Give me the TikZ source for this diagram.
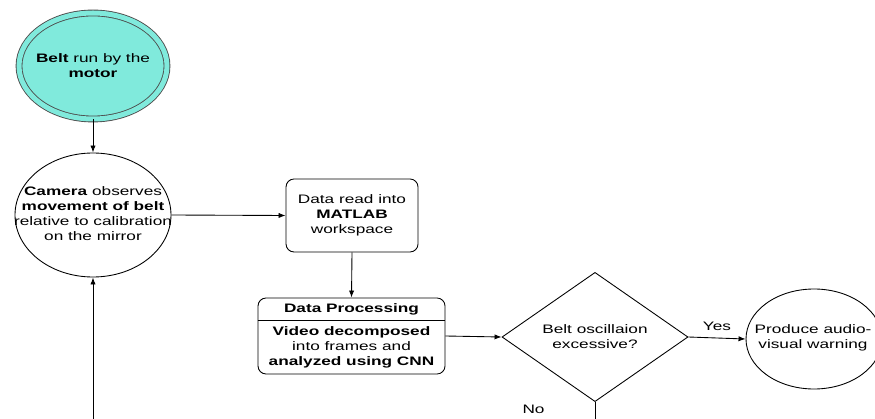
\documentclass[tikz,border=0pt]{standalone}
\usepackage{fontspec}
\setmainfont[FakeStretch=1.4]{Liberation Sans}
\usetikzlibrary{shapes.geometric}
\usetikzlibrary{arrows.meta}

\definecolor{beltfill}{RGB}{128,234,220}

\tikzset{
    flowtext/.style={inner sep=0pt,align=center,font=\fontsize{7}{8.5}\selectfont},
    flow/.style={flowtext,draw,line width=0.5pt},
    oval/.style={flow,ellipse},
    roundbox/.style={flow,rectangle,rounded corners=0.16cm},
    decision/.style={flow,diamond},
    link/.style={line width=0.5pt,-{Latex[length=4pt,width=3pt]}},
    plain/.style={line width=0.5pt}
}

\begin{document}
\begin{tikzpicture}

            %\draw [help lines] (0,0) grid (17.5,-8.38);
            \useasboundingbox (0,0) rectangle (17.5,-8.38);

            \path   (1.86,-1.32) node (belt) [oval,draw=black!70,fill=beltfill,double=beltfill,double distance=0.1cm,
                                              minimum width=2.96cm,minimum height=2.12cm] {}
                    (1.86,-4.3)  node (cam)  [oval,minimum width=3.12cm,minimum height=2.48cm] {}
                    (7.04,-4.31) node (data) [roundbox,minimum width=2.64cm,minimum height=1.46cm]
                                              {Data read into\\ \textbf{MATLAB}\\ workspace}
                    (7.03,-6.72) node (proc) [roundbox,minimum width=3.74cm,minimum height=1.52cm] {}
                    (11.9,-6.74) node (check)[decision,minimum width=3.72cm,minimum height=2.38cm]
                                              {Belt oscillaion\\ excessive?}
                    (16.28,-6.78) node (warn)[oval,minimum width=2.72cm,minimum height=2.0cm] {};

            % texts of the ovals
            \path   (1.86,-1.32) node (belttext) [flowtext] {\textbf{Belt} run by the\\ \textbf{motor}}
                    (1.86,-4.28) node (camtext)  [flowtext] {\textbf{Camera} observes\\ \textbf{movement of belt}\\
                                                             relative to calibration\\ on the mirror}
                    (16.26,-6.75) node (warntext) [flowtext] {Produce audio-\\ visual warning};

            % header and body of the processing box
            \path   (proc.north) node (prochead) [flowtext,anchor=north,minimum width=3.74cm,minimum height=0.44cm]
                                                  {\textbf{Data Processing}}
                    (7.03,-6.95) node (procbody) [flowtext] {\textbf{Video decomposed}\\ into frames and\\
                                                              \textbf{analyzed using CNN}};
            \draw[plain] (prochead.south west) -- (prochead.south east);

            \coordinate (loopin) at (1.86,-8.38);
            \coordinate (noout)  at (11.9,-8.38);

            \draw[link]  (node cs: name=belt, anchor=south) -- (node cs: name=cam, anchor=north);
            \draw[link]  (node cs: name=cam, anchor=east)   -- (node cs: name=data, anchor=west);
            \draw[link]  (node cs: name=data, anchor=south) -- (node cs: name=proc, anchor=north);
            \draw[link]  (node cs: name=proc, anchor=east)  -- (node cs: name=check, anchor=west);
            \draw[link]  (node cs: name=check, anchor=east) -- node (yes) [flowtext,above=4pt] {Yes}
                         (node cs: name=warn, anchor=west);
            \draw[plain] (node cs: name=check, anchor=south) -- node (no) [flowtext,pos=0.45,left=1.0cm] {No}
                         (noout);
            \draw[link]  (loopin) -- (node cs: name=cam, anchor=south);
        \end{tikzpicture}
\end{document}
